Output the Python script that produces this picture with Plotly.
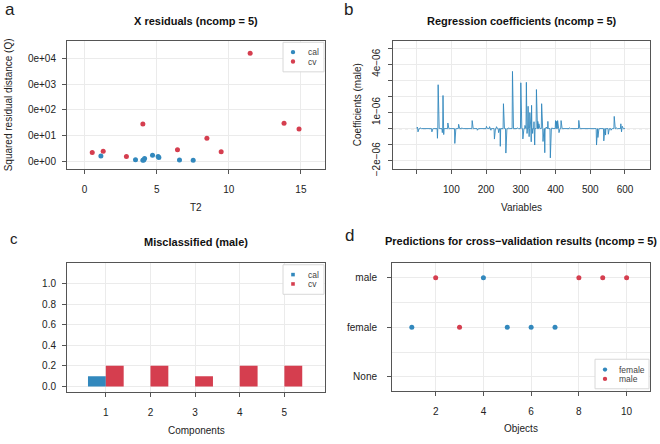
import numpy as np
import plotly.graph_objects as go

W, H = 660, 444
BLUE = "#3288BD"
RED = "#D53E4F"
GRID = "#EBEBEB"
FRAME = "#555555"
FONT = "Liberation Sans"

# a: X residuals (T2 vs Q)
cal_t2 = [1.13, 3.53, 4.04, 4.16, 4.71, 5.10, 5.15, 6.58, 7.53, 4.10]
cal_q = [1.6, 1.12, 1.07, 1.26, 1.7, 1.5, 1.38, 1.1, 1.07, 1.1]
cv_t2 = [0.53, 1.29, 2.90, 4.04, 6.44, 8.48, 9.47, 11.48, 13.83, 14.87]
cv_q = [2.15, 2.4, 1.5, 28, 2.8, 7.9, 2.3, 16500, 30, 18]
q_ticks = [1, 10, 100, 1000, 10000]
q_labels = ["0e+00", "0e+01", "0e+02", "0e+03", "0e+04"]

# b: regression coefficients (variable index, value), rest ~0
n_vars = 600
spike_var = [2, 4, 10, 44, 60, 62, 64, 74, 76, 78, 90, 110, 121, 130, 160, 162,
             175, 201, 210, 214, 224, 230, 236, 241, 250, 257, 265, 276, 278,
             290, 300, 306, 312, 316, 318, 321, 324, 326, 328, 330, 331, 334,
             338, 340, 345, 347, 349, 352, 360, 364, 369, 373, 378, 385, 390,
             400, 403, 406, 410, 416, 440, 467, 500, 518, 520, 522, 539, 544,
             552, 560, 569, 575, 588, 590, 592]
spike_val = [0.1, -0.2, 0.05, -0.2, -0.6, 2.73, 0.2, -0.25, 2.06, -0.37, 0.35,
             -0.92, 0.27, 0.05, 0.5, 0.15, -0.1, 0.14, 0.12, -0.1, -0.65, 0.12,
             -0.25, -1.1, 1.55, -1.52, 0.05, 3.56, 0.1, 0.05, 2.85, -0.64, 0.2,
             2.88, -0.3, 1.39, -0.5, 1.0, 0.3, -0.82, 1.45, -0.3, 0.43, -1.02,
             2.43, 0.4, 0.45, 0.3, 1.55, -0.8, -1.5, 0.1, 0.45, -1.82, 0.05,
             0.5, 0.45, 0.5, -0.25, 0.5, 0.05, 0.51, 0.03, -1.02, -0.3, -0.55,
             -0.76, -0.4, -0.35, -0.1, 0.76, 0.05, 0.3, -0.2, 0.15]
coef_ticks = [-2e-6, -1e-6, 0, 1e-6, 2e-6, 3e-6, 4e-6, 5e-6]
coef_labels = ["\u22122e\u221206", "", "", "1e\u221206", "", "", "4e\u221206", ""]

# c: misclassified
components = [1, 2, 3, 4, 5]
miss_cal = [0.1, 0, 0, 0, 0]
miss_cv = [0.2, 0.2, 0.1, 0.2, 0.2]

# d: cv predictions (0 = None, 1 = female, 2 = male)
objects = list(range(1, 11))
ref_class = ["female", "male", "male", "female", "female", "female", "female", "male", "male", "male"]
pred_class = [1, 2, 1, 2, 1, 1, 1, 2, 2, 2]
class_labels = ["None", "female", "male"]

coef = np.zeros(n_vars)
coef[np.array(spike_var) - 1] = np.array(spike_val) * 1e-6
variables = np.arange(1, n_vars + 1)


def px_x(a, b):
    return [a / W, b / W]


def px_y(top, bottom):
    return [1 - bottom / H, 1 - top / H]


fig = go.Figure()

fig.add_trace(go.Scatter(x=cal_t2, y=cal_q, mode="markers", name="cal",
                         marker=dict(color=BLUE, size=5), xaxis="x", yaxis="y"))
fig.add_trace(go.Scatter(x=cv_t2, y=cv_q, mode="markers", name="cv",
                         marker=dict(color=RED, size=5), xaxis="x", yaxis="y"))

fig.add_trace(go.Scatter(x=variables, y=coef, mode="lines",
                         line=dict(color=BLUE, width=0.9), xaxis="x2", yaxis="y2"))

fig.add_trace(go.Bar(x=components, y=miss_cal, name="cal", marker=dict(color=BLUE, line_width=0),
                     xaxis="x3", yaxis="y3", offsetgroup="cal"))
fig.add_trace(go.Bar(x=components, y=miss_cv, name="cv", marker=dict(color=RED, line_width=0),
                     xaxis="x3", yaxis="y3", offsetgroup="cv"))

for cls, col in [("female", BLUE), ("male", RED)]:
    xs = [o for o, r in zip(objects, ref_class) if r == cls]
    ys = [p for p, r in zip(pred_class, ref_class) if r == cls]
    fig.add_trace(go.Scatter(x=xs, y=ys, mode="markers", name=cls,
                             marker=dict(color=col, size=5), xaxis="x4", yaxis="y4"))

ax = dict(showline=True, mirror=True, linecolor=FRAME, linewidth=1, ticks="outside",
          ticklen=4, tickcolor=FRAME, gridcolor=GRID, zeroline=False,
          tickfont=dict(size=10, color="#222"), ticklabelstandoff=4)

fig.update_layout(
    width=W, height=H, margin=dict(l=0, r=0, t=0, b=0),
    plot_bgcolor="white", paper_bgcolor="white", showlegend=False,
    font=dict(family=FONT, color="#222"),
    barmode="group", bargap=0.2, bargroupgap=0,
    xaxis=dict(ax, domain=px_x(67, 325), anchor="y", range=[-1.22, 16.67],
               tickvals=[0, 5, 10, 15], ticklabelstandoff=7),
    yaxis=dict(ax, domain=px_y(42, 172), anchor="x", type="log", range=[-0.32, 4.68],
               tickvals=q_ticks, ticktext=q_labels),
    xaxis2=dict(ax, domain=px_x(393, 650), anchor="y2", range=[-68, 672],
                tickvals=[0, 100, 200, 300, 400, 500, 600],
                ticktext=["", "100", "200", "300", "400", "500", "600"], ticklabelstandoff=7),
    yaxis2=dict(ax, domain=px_y(42, 172), anchor="x2", range=[-2.53e-6, 5.43e-6],
                tickvals=coef_ticks, ticktext=coef_labels, tickangle=-90),
    xaxis3=dict(ax, domain=px_x(67, 325), anchor="y3", range=[0.13, 5.91],
                tickvals=components, ticklabelstandoff=7),
    yaxis3=dict(ax, domain=px_y(267, 398), anchor="x3", range=[-0.051, 1.2],
                tickvals=[0, 0.2, 0.4, 0.6, 0.8, 1.0], tickformat=".1f"),
    xaxis4=dict(ax, domain=px_x(392, 650), anchor="y4", range=[0.17, 10.98],
                tickvals=[2, 4, 6, 8, 10], ticklabelstandoff=7),
    yaxis4=dict(ax, domain=px_y(267, 397), anchor="x4", range=[-0.28, 2.3],
                tickvals=[0, 1, 2], ticktext=class_labels, ticklabelstandoff=8,
                minor=dict(tickvals=[0.5, 1.5], showgrid=True, gridcolor=GRID, ticklen=0)),
)

# dashed zero line in panel b
fig.add_shape(type="line", xref="x2 domain", yref="y2", x0=0, x1=1, y0=0, y1=0,
              line=dict(color="#777", width=1, dash="3px,3px"), layer="below")


def text(x, y, s, size=10, bold=False, angle=0, anchor="center", color=None):
    fig.add_annotation(x=x / W, y=1 - y / H, xref="paper", yref="paper", text=s,
                       showarrow=False, textangle=angle, xanchor=anchor, yanchor="middle",
                       font=dict(size=size, family=FONT,
                                 color=color or ("#111" if bold else "#222"),
                                 weight="bold" if bold else "normal"))


def legend_box(x0, y0, x1, y1, items, kx, tx, square=False):
    fig.add_shape(type="rect", xref="paper", yref="paper", x0=x0 / W, x1=x1 / W,
                  y0=1 - y1 / H, y1=1 - y0 / H, line=dict(color="#D8D8D8", width=1),
                  fillcolor="white", layer="above")
    for (label, col, ky) in items:
        r = 1.8 if square else 2.2
        fig.add_shape(type="rect" if square else "circle", xref="paper", yref="paper",
                      x0=(kx - r) / W, x1=(kx + r) / W, y0=1 - (ky + r) / H, y1=1 - (ky - r) / H,
                      line=dict(width=0), fillcolor=col, layer="above")
        text(tx, ky, label, size=8.5, anchor="left", color="#444")


legend_box(283, 43, 324, 73, [("cal", BLUE, 53), ("cv", RED, 62.5)], 293, 306)
legend_box(283, 269, 324, 299, [("cal", BLUE, 279), ("cv", RED, 288.5)], 293, 306, square=True)
legend_box(595, 365, 649, 395, [("female", BLUE, 375.5), ("male", RED, 385)], 605, 617)

# panel letters
text(3, 10, "a", size=17, anchor="left")
text(342, 10, "b", size=17, anchor="left")
text(8, 242, "c", size=15, anchor="left")
text(343, 239, "d", size=17, anchor="left")

# titles
text(196, 21, "X residuals (ncomp = 5)", size=11, bold=True)
text(522, 21, "Regression coefficients (ncomp = 5)", size=11, bold=True)
text(196, 246, "Misclassified (male)", size=11, bold=True)
text(521, 245, "Predictions for cross\u2212validation results (ncomp = 5)", size=11, bold=True)

# axis titles
text(196, 211, "T2")
text(521, 211, "Variables")
text(196, 437, "Components")
text(521, 435, "Objects")
text(8, 107, "Squared residual distance (Q)", angle=-90)
text(357, 107, "Coefficients (male)", angle=-90)

fig.write_html("out.html", config={"displayModeBar": False},
               post_script="document.body.style.margin='0';")
